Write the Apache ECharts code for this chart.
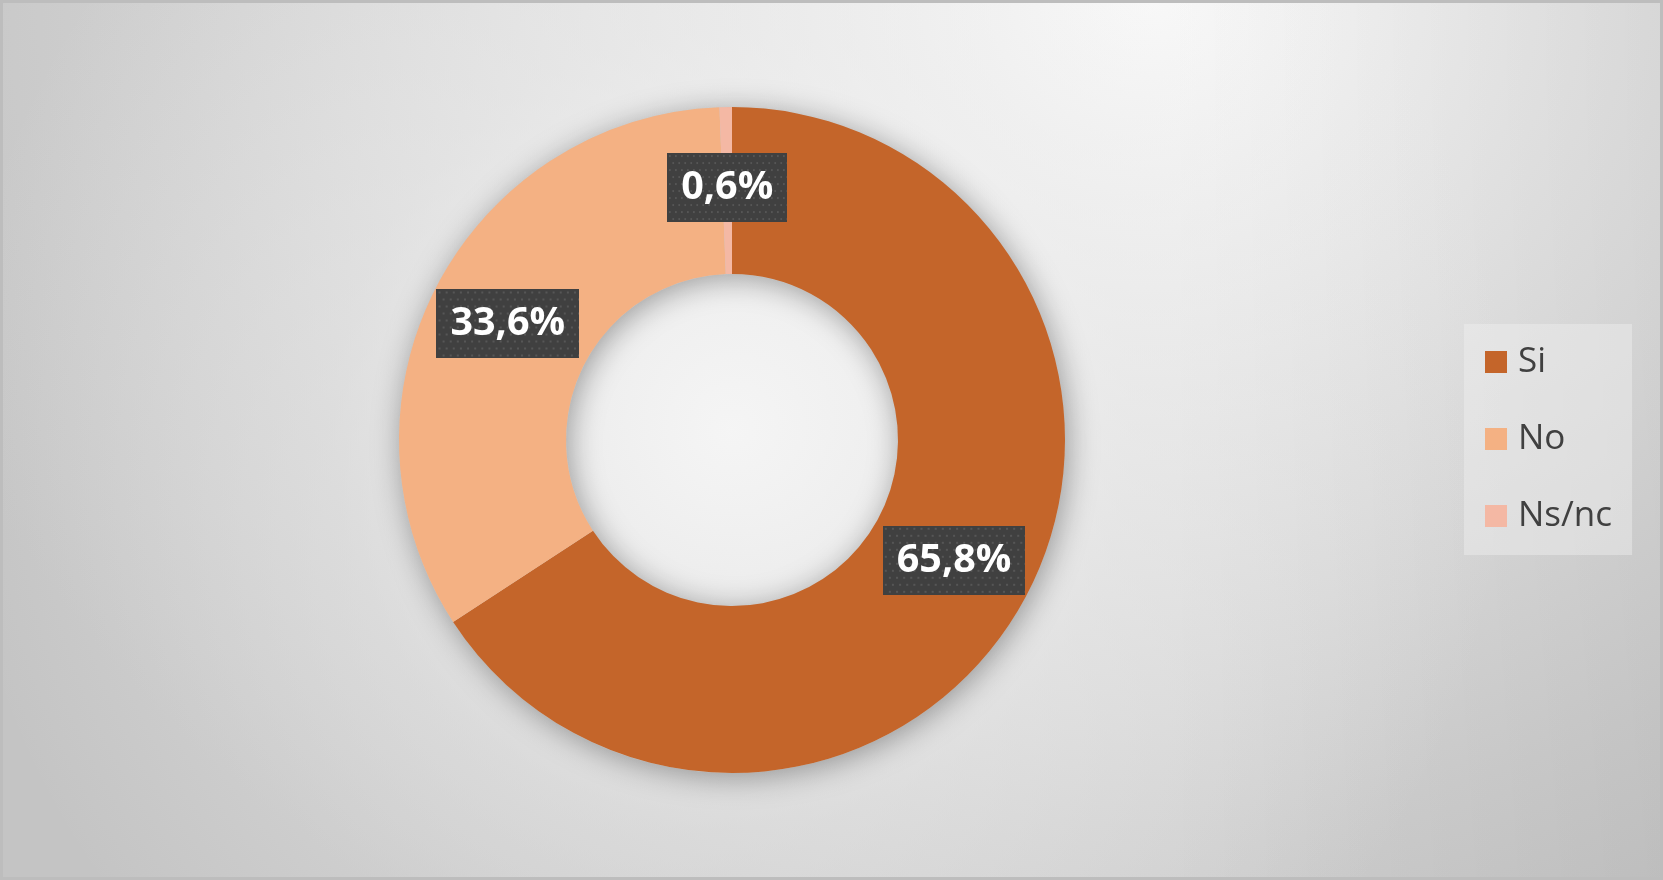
<!DOCTYPE html>
<html>
<head>
<meta charset="utf-8">
<script src="https://cdn.jsdelivr.net/npm/echarts@6/dist/echarts.min.js"></script>
<style>
  html, body { margin: 0; padding: 0; width: 1663px; height: 880px; overflow: hidden; }
  #bg { position: absolute; left: 0; top: 0; width: 1663px; height: 880px;
    background:
      radial-gradient(circle at 732px 430px, rgba(246,246,246,0.95) 0px, rgba(240,240,240,0.8) 200px, rgba(236,236,236,0.45) 400px, rgba(230,230,230,0) 780px),
      linear-gradient(to left, rgba(0,0,0,0.06) 0px, rgba(0,0,0,0) 500px),
      radial-gradient(ellipse 1300px 1100px at 1150px 0px, #fbfbfb 0%, #e4e4e4 40%, #d0d0d0 75%, #c4c4c4 100%);
  }
  #chart { position: absolute; left: 0; top: 0; width: 1663px; height: 880px; }
  #frame { position: absolute; left: 0; top: 0; width: 1663px; height: 880px; box-sizing: border-box; border: 3px solid #bdbdbd; pointer-events: none; }
</style>
</head>
<body>
<div id="bg"></div>
<div id="chart"></div>
<div id="frame"></div>
<script>
const categories = ['Si', 'No', 'Ns/nc'];
const values = [65.8, 33.6, 0.6];
const colors = ['#C4652A', '#F4B183', '#F4B8A4'];

// dotted dark pattern for label boxes
function makePattern(w, h) {
  const c = document.createElement('canvas');
  c.width = w; c.height = h;
  const ctx = c.getContext('2d');
  ctx.fillStyle = '#404040';
  ctx.fillRect(0, 0, w, h);
  ctx.fillStyle = '#565656';
  let row = 0;
  for (let y = 2; y < h; y += 7, row++) {
    const off = (row % 2) ? 3.5 : 0;
    for (let x = 2 + off; x < w; x += 7) {
      ctx.fillRect(Math.round(x), y, 2, 2);
    }
  }
  return c;
}
const pattern = makePattern(140, 69);

const chart = echarts.init(document.getElementById('chart'), null, { renderer: 'canvas' });
chart.setOption({
  backgroundColor: 'transparent',
  animation: false,
  legend: {
    orient: 'vertical',
    left: 1464,
    top: 324,
    data: categories,
    icon: 'rect',
    itemWidth: 22,
    itemHeight: 22,
    itemGap: 37,
    padding: [18, 20, 19, 21],
    backgroundColor: 'rgba(240,240,240,0.45)',
    selectedMode: false,
    textStyle: {
      fontFamily: 'Open Sans',
      fontSize: 35,
      lineHeight: 40,
      color: '#404040',
      padding: [0, 0, 0, 6]
    }
  },
  series: [
    {
      type: 'pie',
      silent: true,
      center: [732, 440],
      radius: [166, 333],
      label: { show: false },
      labelLine: { show: false },
      itemStyle: {
        color: '#c8c8c8',
        shadowBlur: 30,
        shadowColor: 'rgba(0,0,0,0.35)',
        shadowOffsetX: 3,
        shadowOffsetY: 4
      },
      data: [{ value: 1, name: '_shadow' }],
      legendHoverLink: false,
      tooltip: { show: false }
    },
    {
      type: 'pie',
      center: [732, 440],
      radius: [166, 333],
      startAngle: 90,
      clockwise: true,
      avoidLabelOverlap: false,
      emphasis: { disabled: true },
      label: {
        show: true,
        position: 'inside',
        formatter: p => p.value.toFixed(1).replace('.', ',') + '%',
        color: '#ffffff',
        fontFamily: 'Open Sans',
        fontWeight: 'bold',
        fontSize: 39.5,
        lineHeight: 40,
        padding: [14.5, 14],
        backgroundColor: { image: pattern },
        shadowColor: 'rgba(0,0,0,0.55)',
        shadowBlur: 8,
        shadowOffsetX: 4,
        shadowOffsetY: 5
      },
      labelLine: { show: false },
      data: categories.map((c, i) => ({ name: c, value: values[i], itemStyle: { color: colors[i] } }))
    }
  ]
});
</script>
</body>
</html>
